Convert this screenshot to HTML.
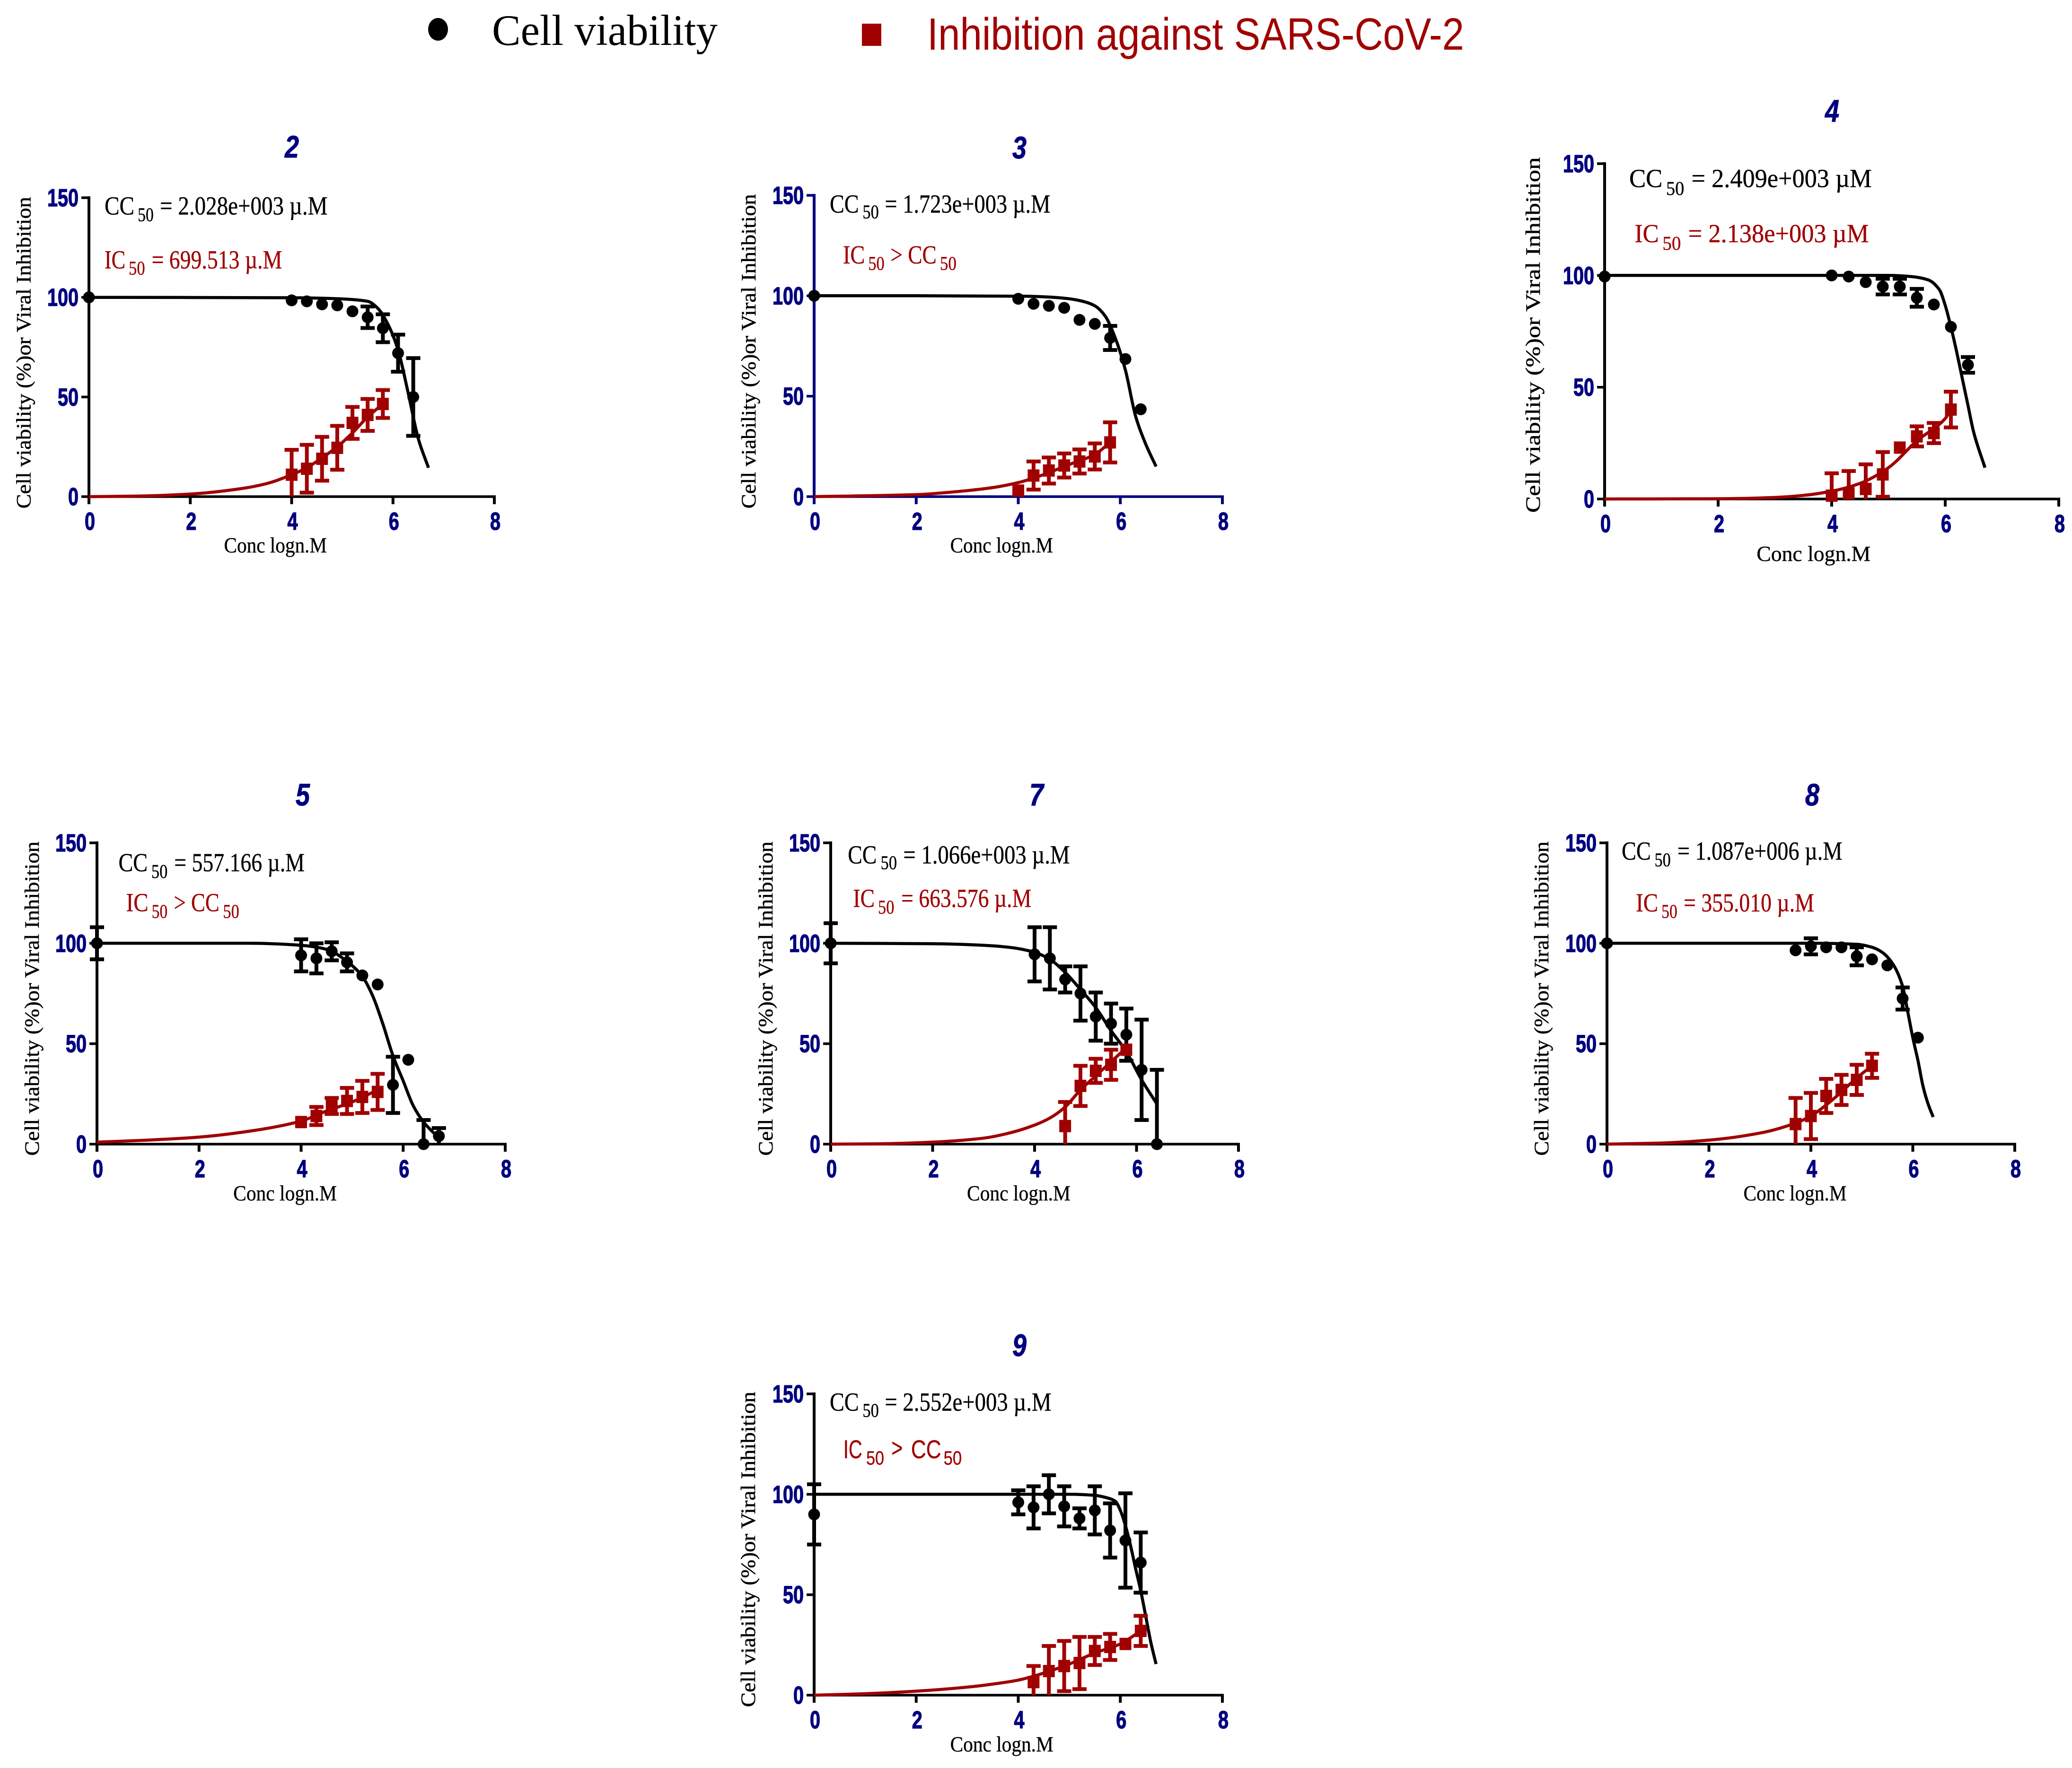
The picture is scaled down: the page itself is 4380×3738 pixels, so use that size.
<!DOCTYPE html>
<html lang="en">
<head>
<meta charset="utf-8">
<title>Cell viability and inhibition against SARS-CoV-2</title>
<style>
html,body{margin:0;padding:0;background:#fff;width:4380px;height:3738px;overflow:hidden}
svg{display:block}
</style>
</head>
<body>
<svg id="chart" xmlns="http://www.w3.org/2000/svg" width="4380" height="3738" viewBox="0 0 4380 3738">
  <rect x="0" y="0" width="4380" height="3738" fill="#ffffff"/>
  <g>
    <ellipse cx="926" cy="62" rx="21" ry="24" fill="#000000"/>
    <text x="1040" y="95" font-family="'Liberation Serif',serif" font-size="92" textLength="477" lengthAdjust="spacingAndGlyphs" fill="#000000">Cell viability</text>
    <rect x="1822" y="50" width="41" height="47" fill="#a00000"/>
    <text x="1960" y="105" font-family="'Liberation Sans',sans-serif" font-size="96" textLength="1135" lengthAdjust="spacingAndGlyphs" fill="#a00000">Inhibition against SARS-CoV-2</text>
  </g>
</svg>
<script>
// Shared axis ticks
const xTicks = [0, 2, 4, 6, 8];
const yTicks = [0, 50, 100, 150];

// Compound 2
const p2CellX = [0, 4, 4.3, 4.6, 4.9, 5.2, 5.5, 5.8, 6.1, 6.4];
const p2CellY = [100, 98.5, 98, 96.5, 96, 93, 90, 84.5, 72, 50];
const p2CellErr = [0, 0, 0, 0, 0, 0, 5.4, 7, 9.3, 19.5];
const p2InhibX = [4, 4.3, 4.6, 4.9, 5.2, 5.5, 5.8];
const p2InhibY = [11, 14, 19, 24.5, 37, 41, 46.5];
const p2InhibErr = [12.5, 12, 11, 11, 8, 8, 7];
const p2CellFitX = [0, 4, 5, 5.5, 5.7, 5.9, 6.1, 6.3, 6.5, 6.7];
const p2CellFitY = [100, 99.8, 99.2, 98, 94.5, 86.5, 73.6, 52, 29, 14.5];
const p2InhibFitX = [0, 1, 2, 3, 3.5, 4, 4.3, 4.6, 4.9, 5.2, 5.5, 5.8];
const p2InhibFitY = [0, 0.3, 1.3, 4, 6.5, 11, 14.5, 19.5, 25, 32, 40, 46.5];

// Compound 3
const p3CellX = [0, 4, 4.3, 4.6, 4.9, 5.2, 5.5, 5.8, 6.1, 6.4];
const p3CellY = [100, 98.5, 96, 95, 94, 88, 86, 79, 68.5, 43.5];
const p3CellErr = [0, 0, 0, 0, 0, 0, 0, 6, 0, 0];
const p3InhibX = [4, 4.3, 4.6, 4.9, 5.2, 5.5, 5.8];
const p3InhibY = [3, 10.5, 13, 15.5, 17.5, 20, 27];
const p3InhibErr = [0, 7, 6.5, 6, 6, 6.5, 10];
const p3CellFitX = [0, 2, 4, 4.5, 5, 5.3, 5.5, 5.7, 5.9, 6.1, 6.3, 6.5, 6.7];
const p3CellFitY = [100, 100, 99.8, 99.5, 98.5, 97, 95, 90, 79, 63, 40, 26, 15];
const p3InhibFitX = [0, 2, 3, 3.5, 4, 4.5, 5, 5.5, 5.8];
const p3InhibFitY = [0, 1, 3, 4.5, 7, 11, 16, 21, 27];

// Compound 4
const p4CellX = [0, 4, 4.3, 4.6, 4.9, 5.2, 5.5, 5.8, 6.1, 6.4];
const p4CellY = [99.5, 100, 99.5, 97, 95, 95, 90, 87, 77, 60];
const p4CellErr = [0, 0, 0, 0, 3.5, 3.5, 4, 0, 0, 3.5];
const p4InhibX = [4, 4.3, 4.6, 4.9, 5.2, 5.5, 5.8, 6.1];
const p4InhibY = [1.5, 2.5, 4.5, 11, 23, 28, 29.5, 40];
const p4InhibErr = [10, 10, 11, 10, 0, 4.5, 4.5, 8];
const p4CellFitX = [0, 5, 5.4, 5.7, 5.9, 6, 6.1, 6.2, 6.3, 6.4, 6.5, 6.7];
const p4CellFitY = [100, 100, 99.5, 98, 93.5, 86.6, 77, 66, 54, 42, 30, 14];
const p4InhibFitX = [0, 2, 3, 3.5, 4, 4.5, 5, 5.5, 6, 6.1];
const p4InhibFitY = [0, 0.1, 0.7, 1.6, 3.5, 7, 14, 26, 36, 40];

// Compound 5
const p5CellX = [0, 4, 4.3, 4.6, 4.9, 5.2, 5.5, 5.8, 6.1, 6.4, 6.7];
const p5CellY = [100, 94, 92.5, 96, 90.5, 84, 79.5, 29.5, 42, 0, 4];
const p5CellErr = [8, 8, 7.5, 4.5, 4.5, 0, 0, 14, 0, 12, 4];
const p5InhibX = [4, 4.3, 4.6, 4.9, 5.2, 5.5];
const p5InhibY = [11, 14, 19, 21.5, 23.5, 26];
const p5InhibErr = [0, 4.5, 4, 6.5, 8, 9];
const p5CellFitX = [0, 3, 4, 4.5, 4.9, 5.2, 5.4, 5.6, 5.8, 6, 6.2, 6.4, 6.7];
const p5CellFitY = [100, 100, 99, 97, 91, 83.5, 74, 60, 44, 31.5, 19, 11, 3];
const p5InhibFitX = [0, 1, 2, 3, 4, 4.5, 5, 5.5];
const p5InhibFitY = [1, 2, 3.5, 6.5, 11.5, 16.5, 21, 27];

// Compound 7
const p7CellX = [0, 4, 4.3, 4.6, 4.9, 5.2, 5.5, 5.8, 6.1, 6.4];
const p7CellY = [100, 94.5, 92.5, 82, 75, 63.5, 60, 54.5, 37, 0];
const p7CellErr = [10, 13.5, 15.5, 6.5, 13.5, 12, 10, 13, 25, 37];
const p7InhibX = [4.6, 4.9, 5.2, 5.5, 5.8];
const p7InhibY = [9, 29, 36.5, 39.5, 47];
const p7InhibErr = [12, 10, 6, 7.5, 0];
const p7CellFitX = [0, 2, 3, 3.5, 4, 4.3, 4.6, 4.9, 5.2, 5.5, 5.8, 6.1, 6.4];
const p7CellFitY = [100, 99.8, 99, 98, 95.5, 92, 85.5, 77, 68, 56.5, 46, 32, 20];
const p7InhibFitX = [0, 1, 2, 3, 3.5, 4, 4.3, 4.6, 4.9, 5.2, 5.5, 5.8];
const p7InhibFitY = [0, 0.2, 1, 3, 5.5, 9.5, 13, 18.5, 27, 34, 41, 48];

// Compound 8
const p8CellX = [0, 3.7, 4, 4.3, 4.6, 4.9, 5.2, 5.5, 5.8, 6.1];
const p8CellY = [100, 96.5, 98.5, 98, 98, 93.5, 92, 89, 72.5, 53];
const p8CellErr = [0, 0, 4, 0, 0, 4.5, 0, 0, 5.5, 0];
const p8InhibX = [3.7, 4, 4.3, 4.6, 4.9, 5.2];
const p8InhibY = [10, 14, 24, 27, 32, 39];
const p8InhibErr = [13, 11.5, 8.5, 7.5, 7.5, 6];
const p8CellFitX = [0, 4, 4.9, 5.2, 5.4, 5.6, 5.8, 5.9, 6, 6.1, 6.2, 6.3, 6.4];
const p8CellFitY = [100, 100, 99.5, 98, 95.5, 90, 78.6, 66, 53, 41.7, 28.8, 20, 13.5];
const p8InhibFitX = [0, 1, 2, 3, 3.7, 4, 4.3, 4.6, 4.9, 5.2];
const p8InhibFitY = [0, 0.5, 2, 5.5, 10.5, 14, 19.5, 26, 33, 39];

// Compound 9
const p9CellX = [0, 4, 4.3, 4.6, 4.9, 5.2, 5.5, 5.8, 6.1, 6.4];
const p9CellY = [90, 96, 93.5, 100, 94, 88, 92, 82, 77, 66];
const p9CellErr = [15, 6, 10.5, 9.5, 10, 5, 12, 13.5, 23.5, 15];
const p9InhibX = [4.3, 4.6, 4.9, 5.2, 5.5, 5.8, 6.1, 6.4];
const p9InhibY = [6.5, 12, 14.5, 16, 22, 24, 25.5, 32];
const p9InhibErr = [8, 12.5, 12.5, 13, 7, 6.5, 0, 7.5];
const p9CellFitX = [0, 5, 5.5, 5.7, 5.9, 6, 6.1, 6.2, 6.3, 6.4, 6.5, 6.6, 6.7];
const p9CellFitY = [100, 100, 99.5, 98.5, 96.6, 92, 84.5, 74.5, 63, 52, 39, 26, 15.5];
const p9InhibFitX = [0, 1, 2, 3, 3.5, 4, 4.5, 5, 5.5, 6, 6.4];
const p9InhibFitY = [0, 0.7, 2, 4, 5.5, 7.5, 11, 15.5, 21, 25.5, 32];

const NAVY = '#00007f';
const RED = '#a00000';
const SERIF = "'Liberation Serif',serif";
const SANS = "'Liberation Sans',sans-serif";
const NS = 'http://www.w3.org/2000/svg';
const svg = document.getElementById('chart');

function make(tag, attrs, parent) {
  const el = document.createElementNS(NS, tag);
  for (const k in attrs) el.setAttribute(k, attrs[k]);
  parent.appendChild(el);
  return el;
}

function addText(parent, name, str, x, y, len, size, fill, family, extra, heavy) {
  const t = make('text', Object.assign({
    x: x, y: y, 'font-family': family, 'font-size': size, fill: fill,
    stroke: fill, 'stroke-width': heavy,
    textLength: len, lengthAdjust: 'spacingAndGlyphs'
  }, extra || {}), parent);
  t.textContent = str;
  
  
  return t;
}

// Monotone cubic through non-uniformly spaced points
function smoothPath(pts) {
  const n = pts.length;
  const h = [], m = [], t = [];
  for (let i = 0; i < n - 1; i++) {
    h[i] = pts[i + 1][0] - pts[i][0];
    m[i] = (pts[i + 1][1] - pts[i][1]) / h[i];
  }
  t[0] = m[0];
  t[n - 1] = m[n - 2];
  for (let i = 1; i < n - 1; i++) {
    if (m[i - 1] * m[i] <= 0) { t[i] = 0; continue; }
    const w1 = 2 * h[i] + h[i - 1];
    const w2 = h[i] + 2 * h[i - 1];
    t[i] = (w1 + w2) / (w1 / m[i - 1] + w2 / m[i]);
  }
  let d = 'M' + pts[0][0].toFixed(1) + ' ' + pts[0][1].toFixed(1);
  for (let i = 0; i < n - 1; i++) {
    const dx = h[i] / 3;
    d += 'C' + (pts[i][0] + dx).toFixed(1) + ' ' + (pts[i][1] + t[i] * dx).toFixed(1) + ' ' +
      (pts[i + 1][0] - dx).toFixed(1) + ' ' + (pts[i + 1][1] - t[i + 1] * dx).toFixed(1) + ' ' +
      pts[i + 1][0].toFixed(1) + ' ' + pts[i + 1][1].toFixed(1);
  }
  return d;
}

function drawFit(g, name, xs, ys, sx, sy, color) {
  const pts = xs.map(function (v, i) { return [sx(v), sy(ys[i])]; });
  const p = make('path', { d: smoothPath(pts), fill: 'none', stroke: color, 'stroke-width': 6.5, 'stroke-linejoin': 'round' }, g);
  
  
}

function drawErrors(g, name, xs, ys, errs, sx, sy, color) {
  xs.forEach(function (v, i) {
    if (!errs[i]) return;
    const hi = ys[i] + errs[i];
    const rawLo = ys[i] - errs[i];
    const lo = Math.max(0, rawLo);
    const cx = sx(v);
    const bar = make('line', { x1: cx, x2: cx, y1: sy(hi), y2: sy(lo), stroke: color, 'stroke-width': 8 }, g);
    
    
    const capHi = make('line', { x1: cx - 15, x2: cx + 15, y1: sy(hi), y2: sy(hi), stroke: color, 'stroke-width': 8 }, g);
    
    
    if (rawLo > 0) {
      const capLo = make('line', { x1: cx - 15, x2: cx + 15, y1: sy(lo), y2: sy(lo), stroke: color, 'stroke-width': 8 }, g);
      
      
    }
  });
}

function drawPanel(cfg) {
  const sx = function (v) { return cfg.x0 + v * (cfg.x8 - cfg.x0) / 8; };
  const sy = function (v) { return cfg.y0 - v * (cfg.y0 - cfg.y150) / 150; };
  const zx = function (z) { return cfg.ox + z / cfg.kx; };
  const zy = function (z) { return cfg.oy + z / cfg.ky; };

  const g = make('g', {}, svg);
  
  

  addText(g, 'panel-title-' + cfg.id, cfg.id, cfg.titleX - 15, cfg.titleY, 30, 66, NAVY, SANS, { 'font-weight': 'bold', 'font-style': 'italic' }, 1);

  // Axes
  const yAxis = make('line', { x1: sx(0), x2: sx(0), y1: sy(150) - 3, y2: sy(0) + 3, stroke: cfg.axis, 'stroke-width': 6 }, g);
  
  
  const xAxis = make('line', { x1: sx(0) - 3, x2: sx(8) + 3, y1: sy(0), y2: sy(0), stroke: cfg.axis, 'stroke-width': 5.5 }, g);
  
  

  yTicks.forEach(function (v) {
    const t = make('line', { x1: sx(0) - 16, x2: sx(0), y1: sy(v), y2: sy(v), stroke: cfg.axis, 'stroke-width': 5.5 }, g);
    
    
    const s = String(v);
    const len = s.length * 22;
    addText(g, 'y-tick-label', s, sx(0) - 22 - len, sy(v) + 18, len, 52, NAVY, SANS, { 'font-weight': 'bold' }, 1.4);
  });
  xTicks.forEach(function (v) {
    const t = make('line', { x1: sx(v), x2: sx(v), y1: sy(0), y2: sy(0) + 16, stroke: cfg.axis, 'stroke-width': 6 }, g);
    
    
    addText(g, 'x-tick-label', String(v), sx(v) - 9, sy(0) + 70, 22, 52, NAVY, SANS, { 'font-weight': 'bold' }, 1.4);
  });

  // Axis titles
  const ylen = (cfg.yLabel[1] - cfg.yLabel[2]) / cfg.ky;
  const yx = zx(cfg.yLabel[0]);
  const yy = zy(cfg.yLabel[1]);
  addText(g, 'y-axis-title', 'Cell viability (%)or Viral Inhibition', yx, yy, ylen, 43, '#000000', SERIF, { transform: 'rotate(-90 ' + yx + ' ' + yy + ')' }, 0.5);
  addText(g, 'x-axis-title', 'Conc logn.M', zx(cfg.xLabel[0]), zy(cfg.xLabel[2]), (cfg.xLabel[1] - cfg.xLabel[0]) / cfg.kx, 46, '#000000', SERIF, null, 0.4);

  // Annotations
  cfg.notes.forEach(function (n) {
    const fam = n[6] || SERIF;
    addText(g, n[0], n[1], zx(n[2]), zy(n[4]), (n[3] - n[2]) / cfg.kx, n[5], n[0].indexOf('ic50') === 0 ? RED : '#000000', fam, null, 0.4);
  });

  // Cell viability series
  drawFit(g, 'cell-viability-fit', cfg.cellFitX, cfg.cellFitY, sx, sy, '#000000');
  drawErrors(g, 'cell-viability', cfg.cellX, cfg.cellY, cfg.cellErr, sx, sy, '#000000');
  cfg.cellX.forEach(function (v, i) {
    const c = make('circle', { cx: sx(v), cy: sy(cfg.cellY[i]), r: 12.5, fill: '#000000' }, g);
    
    
  });

  // Inhibition series
  drawFit(g, 'inhibition-fit', cfg.inhibFitX, cfg.inhibFitY, sx, sy, RED);
  drawErrors(g, 'inhibition', cfg.inhibX, cfg.inhibY, cfg.inhibErr, sx, sy, RED);
  cfg.inhibX.forEach(function (v, i) {
    const r = make('rect', { x: sx(v) - 12.5, y: sy(cfg.inhibY[i]) - 13, width: 25, height: 26, fill: RED }, g);
    
    
  });
}

const MAIN = 55, SUB = 41;

drawPanel({
  id: '2', ox: 0, oy: 250, kx: 1.4255, ky: 1.654, x0: 188, x8: 1045, y0: 1050, y150: 418, axis: '#000000',
  titleX: 617, titleY: 333, yLabel: [92, 1365, 275], xLabel: [675, 985, 1518],
  cellX: p2CellX, cellY: p2CellY, cellErr: p2CellErr, inhibX: p2InhibX, inhibY: p2InhibY, inhibErr: p2InhibErr,
  cellFitX: p2CellFitX, cellFitY: p2CellFitY, inhibFitX: p2InhibFitX, inhibFitY: p2InhibFitY,
  notes: [
    ['cc50-label', 'CC', 315, 405, 337, MAIN], ['cc50-subscript', '50', 415, 463, 360, SUB], ['cc50-value', '= 2.028e+003 µ.M', 482, 987, 337, MAIN],
    ['ic50-label', 'IC', 315, 378, 525, MAIN], ['ic50-subscript', '50', 388, 437, 547, SUB], ['ic50-value', '= 699.513 µ.M', 457, 850, 525, MAIN]
  ]
});
drawPanel({
  id: '3', ox: 1500, oy: 250, kx: 1.4255, ky: 1.654, x0: 1721, x8: 2584, y0: 1050, y150: 413, axis: NAVY,
  titleX: 2155, titleY: 335, yLabel: [138, 1365, 265], xLabel: [725, 1035, 1518],
  cellX: p3CellX, cellY: p3CellY, cellErr: p3CellErr, inhibX: p3InhibX, inhibY: p3InhibY, inhibErr: p3InhibErr,
  cellFitX: p3CellFitX, cellFitY: p3CellFitY, inhibFitX: p3InhibFitX, inhibFitY: p3InhibFitY,
  notes: [
    ['cc50-label', 'CC', 362, 450, 330, MAIN], ['cc50-subscript', '50', 461, 510, 350, SUB], ['cc50-value', '= 1.723e+003 µ.M', 528, 1027, 330, MAIN],
    ['ic50-label', 'IC', 402, 468, 508, MAIN], ['ic50-subscript', '50', 478, 527, 530, SUB], ['ic50-comparison', '> CC', 545, 684, 508, MAIN], ['ic50-cc-subscript', '50', 694, 744, 530, SUB]
  ]
});
drawPanel({
  id: '4', ox: 3180, oy: 200, kx: 1.307, ky: 1.57, x0: 3392, x8: 4352, y0: 1055, y150: 346, axis: '#000000',
  titleX: 3873, titleY: 257, yLabel: [98, 1388, 208], xLabel: [697, 1012, 1548],
  cellX: p4CellX, cellY: p4CellY, cellErr: p4CellErr, inhibX: p4InhibX, inhibY: p4InhibY, inhibErr: p4InhibErr,
  cellFitX: p4CellFitX, cellFitY: p4CellFitY, inhibFitX: p4InhibFitX, inhibFitY: p4InhibFitY,
  notes: [
    ['cc50-label', 'CC', 345, 437, 307, MAIN], ['cc50-subscript', '50', 447, 497, 333, SUB], ['cc50-value', '= 2.409e+003 µM', 517, 1015, 307, MAIN],
    ['ic50-label', 'IC', 360, 427, 490, MAIN], ['ic50-subscript', '50', 437, 488, 515, SUB], ['ic50-value', '= 2.138e+003 µM', 508, 1007, 490, MAIN]
  ]
});
drawPanel({
  id: '5', ox: 0, oy: 1620, kx: 1.4255, ky: 1.654, x0: 205, x8: 1068, y0: 2419, y150: 1782, axis: '#000000',
  titleX: 640, titleY: 1703, yLabel: [117, 1362, 263], xLabel: [703, 1015, 1518],
  cellX: p5CellX, cellY: p5CellY, cellErr: p5CellErr, inhibX: p5InhibX, inhibY: p5InhibY, inhibErr: p5InhibErr,
  cellFitX: p5CellFitX, cellFitY: p5CellFitY, inhibFitX: p5InhibFitX, inhibFitY: p5InhibFitY,
  notes: [
    ['cc50-label', 'CC', 357, 445, 367, MAIN], ['cc50-subscript', '50', 456, 505, 390, SUB], ['cc50-value', '= 557.166 µ.M', 525, 918, 367, MAIN],
    ['ic50-label', 'IC', 380, 447, 507, MAIN], ['ic50-subscript', '50', 457, 505, 530, SUB], ['ic50-comparison', '> CC', 524, 661, 507, MAIN], ['ic50-cc-subscript', '50', 672, 721, 530, SUB]
  ]
});
drawPanel({
  id: '7', ox: 1560, oy: 1620, kx: 1.4255, ky: 1.654, x0: 1756, x8: 2618, y0: 2419, y150: 1782, axis: '#000000',
  titleX: 2191, titleY: 1703, yLabel: [104, 1362, 263], xLabel: [690, 1002, 1518],
  cellX: p7CellX, cellY: p7CellY, cellErr: p7CellErr, inhibX: p7InhibX, inhibY: p7InhibY, inhibErr: p7InhibErr,
  cellFitX: p7CellFitX, cellFitY: p7CellFitY, inhibFitX: p7InhibFitX, inhibFitY: p7InhibFitY,
  notes: [
    ['cc50-label', 'CC', 331, 418, 340, MAIN], ['cc50-subscript', '50', 430, 479, 360, SUB], ['cc50-value', '= 1.066e+003 µ.M', 498, 1000, 340, MAIN],
    ['ic50-label', 'IC', 347, 412, 492, MAIN], ['ic50-subscript', '50', 422, 471, 515, SUB], ['ic50-value', '= 663.576 µ.M', 492, 884, 492, MAIN]
  ]
});
drawPanel({
  id: '8', ox: 3200, oy: 1620, kx: 1.4255, ky: 1.654, x0: 3397, x8: 4259, y0: 2419, y150: 1782, axis: '#000000',
  titleX: 3831, titleY: 1703, yLabel: [104, 1362, 263], xLabel: [692, 1003, 1518],
  cellX: p8CellX, cellY: p8CellY, cellErr: p8CellErr, inhibX: p8InhibX, inhibY: p8InhibY, inhibErr: p8InhibErr,
  cellFitX: p8CellFitX, cellFitY: p8CellFitY, inhibFitX: p8InhibFitX, inhibFitY: p8InhibFitY,
  notes: [
    ['cc50-label', 'CC', 325, 413, 327, MAIN], ['cc50-subscript', '50', 424, 473, 350, SUB], ['cc50-value', '= 1.087e+006 µ.M', 493, 990, 327, MAIN],
    ['ic50-label', 'IC', 368, 435, 508, MAIN], ['ic50-subscript', '50', 445, 493, 530, SUB], ['ic50-value', '= 355.010 µ.M', 512, 905, 508, MAIN]
  ]
});
drawPanel({
  id: '9', ox: 1500, oy: 2790, kx: 1.4255, ky: 1.654, x0: 1721, x8: 2584, y0: 3584, y150: 2947, axis: '#000000',
  titleX: 2155, titleY: 2867, yLabel: [137, 1355, 252], xLabel: [725, 1036, 1510],
  cellX: p9CellX, cellY: p9CellY, cellErr: p9CellErr, inhibX: p9InhibX, inhibY: p9InhibY, inhibErr: p9InhibErr,
  cellFitX: p9CellFitX, cellFitY: p9CellFitY, inhibFitX: p9InhibFitX, inhibFitY: p9InhibFitY,
  notes: [
    ['cc50-label', 'CC', 362, 450, 318, MAIN], ['cc50-subscript', '50', 461, 510, 340, SUB], ['cc50-value', '= 2.552e+003 µ.M', 528, 1030, 318, MAIN],
    ['ic50-label', 'IC', 403, 460, 485, MAIN, SANS], ['ic50-subscript', '50', 472, 526, 507, SUB, SANS], ['ic50-comparison', '>', 548, 582, 480, MAIN, SANS], ['ic50-cc-label', 'CC', 607, 698, 485, MAIN, SANS], ['ic50-cc-subscript', '50', 705, 760, 507, SUB, SANS]
  ]
});
</script>
</body>
</html>
